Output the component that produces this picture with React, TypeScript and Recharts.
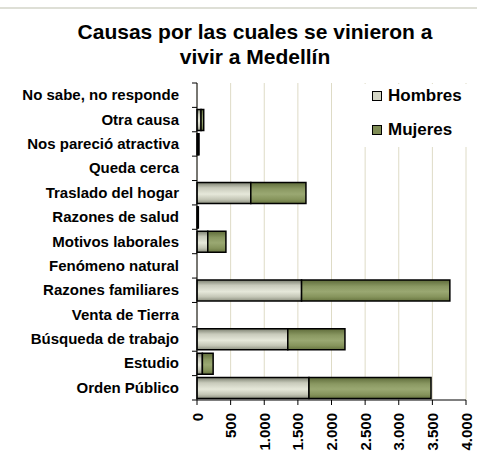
import { BarChart, Bar, XAxis, YAxis, CartesianGrid } from 'recharts';

const CAUSAS = [
  'No sabe, no responde',
  'Otra causa',
  'Nos pareció atractiva',
  'Queda cerca',
  'Traslado del hogar',
  'Razones de salud',
  'Motivos laborales',
  'Fenómeno natural',
  'Razones familiares',
  'Venta de Tierra',
  'Búsqueda de trabajo',
  'Estudio',
  'Orden Público',
];
const HOMBRES = [0, 60, 15, 0, 800, 10, 160, 0, 1555, 0, 1350, 80, 1665];
const MUJERES = [0, 40, 15, 0, 820, 10, 270, 0, 2205, 0, 850, 160, 1815];
const X_TICKS = [0, 500, 1000, 1500, 2000, 2500, 3000, 3500, 4000];

const data = CAUSAS.map((name, i) => ({ name, hombres: HOMBRES[i], mujeres: MUJERES[i] }));

const FONT = '"Liberation Sans", Arial, sans-serif';
const PLOT_TOP = 83;
const PLOT_BOTTOM = 400;
const BAND = (PLOT_BOTTOM - PLOT_TOP) / CAUSAS.length;

const fmt = (v: number) => String(v).replace(/\B(?=(\d{3})+(?!\d))/g, '.');

const YTick = (props: any) => {
  const { y, payload, index } = props;
  const axisX = 197;
  return (
    <g>
      <line x1={axisX - 5} x2={axisX} y1={y - BAND / 2} y2={y - BAND / 2} stroke="#000" />
      {index === CAUSAS.length - 1 && (
        <line x1={axisX - 5} x2={axisX} y1={y + BAND / 2} y2={y + BAND / 2} stroke="#000" />
      )}
      <text x={179} y={y + 5} textAnchor="end" fontFamily={FONT} fontWeight="bold" fontSize={15} fill="#000">
        {payload.value}
      </text>
    </g>
  );
};

const XTick = (props: any) => {
  const { x, payload } = props;
  return (
    <text
      transform={`translate(${x + 5.5},${413}) rotate(-90)`}
      textAnchor="end"
      fontFamily={FONT}
      fontWeight="bold"
      fontSize={15}
      fill="#000"
    >
      {fmt(payload.value)}
    </text>
  );
};

function LegendBox() {
  const item = (label: string, color: string, top: number) => (
    <div style={{ position: 'absolute', left: 9, top, display: 'flex', alignItems: 'center' }}>
      <div style={{ width: 8, height: 8, background: color, border: '1px solid #000' }} />
      <span style={{ marginLeft: 6, fontFamily: FONT, fontWeight: 'bold', fontSize: 17, color: '#000' }}>{label}</span>
    </div>
  );
  return (
    <div style={{ position: 'absolute', left: 363, top: 84, width: 110, height: 63, background: '#fff' }}>
      {item('Hombres', '#d4d6c6', 2)}
      {item('Mujeres', '#7f8c55', 36)}
    </div>
  );
}

export default function App() {
  return (
    <div style={{ position: 'absolute', left: 0, top: 0, width: 477, height: 451, background: '#fff' }}>
      <div style={{ position: 'absolute', left: 0, top: 7, width: 477, height: 2, background: '#dedfd6' }} />
      <div
        style={{
          position: 'absolute',
          left: 35,
          top: 19,
          width: 440,
          textAlign: 'center',
          fontFamily: FONT,
          fontWeight: 'bold',
          fontSize: 21,
          lineHeight: '25px',
          color: '#000',
        }}
      >
        Causas por las cuales se vinieron a<br />vivir a Medellín
      </div>
      <BarChart
        width={477}
        height={451}
        data={data}
        layout="vertical"
        margin={{ top: PLOT_TOP, right: 11, left: 0, bottom: 0 }}
        barSize={21}
      >
        <defs>
          <linearGradient id="gH" x1="0" y1="0" x2="0" y2="1">
            <stop offset="0%" stopColor="#7c8070" />
            <stop offset="25%" stopColor="#c8cabb" />
            <stop offset="55%" stopColor="#e6e8da" />
            <stop offset="80%" stopColor="#c4c6b6" />
            <stop offset="100%" stopColor="#8a8d7d" />
          </linearGradient>
          <linearGradient id="gM" x1="0" y1="0" x2="0" y2="1">
            <stop offset="0%" stopColor="#5f6c3a" />
            <stop offset="30%" stopColor="#8a9862" />
            <stop offset="55%" stopColor="#9aa872" />
            <stop offset="80%" stopColor="#86945c" />
            <stop offset="100%" stopColor="#66733f" />
          </linearGradient>
        </defs>
        <CartesianGrid horizontal={false} stroke="#dedbc6" />
        <XAxis
          type="number"
          domain={[0, 4000]}
          ticks={X_TICKS}
          height={51}
          stroke="#000"
          tickSize={5}
          tick={<XTick />}
          interval={0}
        />
        <YAxis
          type="category"
          dataKey="name"
          width={197}
          stroke="#000"
          tickLine={false}
          tick={<YTick />}
          interval={0}
        />
        <Bar dataKey="hombres" stackId="a" fill="url(#gH)" stroke="#000" strokeWidth={1.5} isAnimationActive={false} />
        <Bar dataKey="mujeres" stackId="a" fill="url(#gM)" stroke="#000" strokeWidth={1.5} isAnimationActive={false} />
      </BarChart>
      <LegendBox />
    </div>
  );
}
